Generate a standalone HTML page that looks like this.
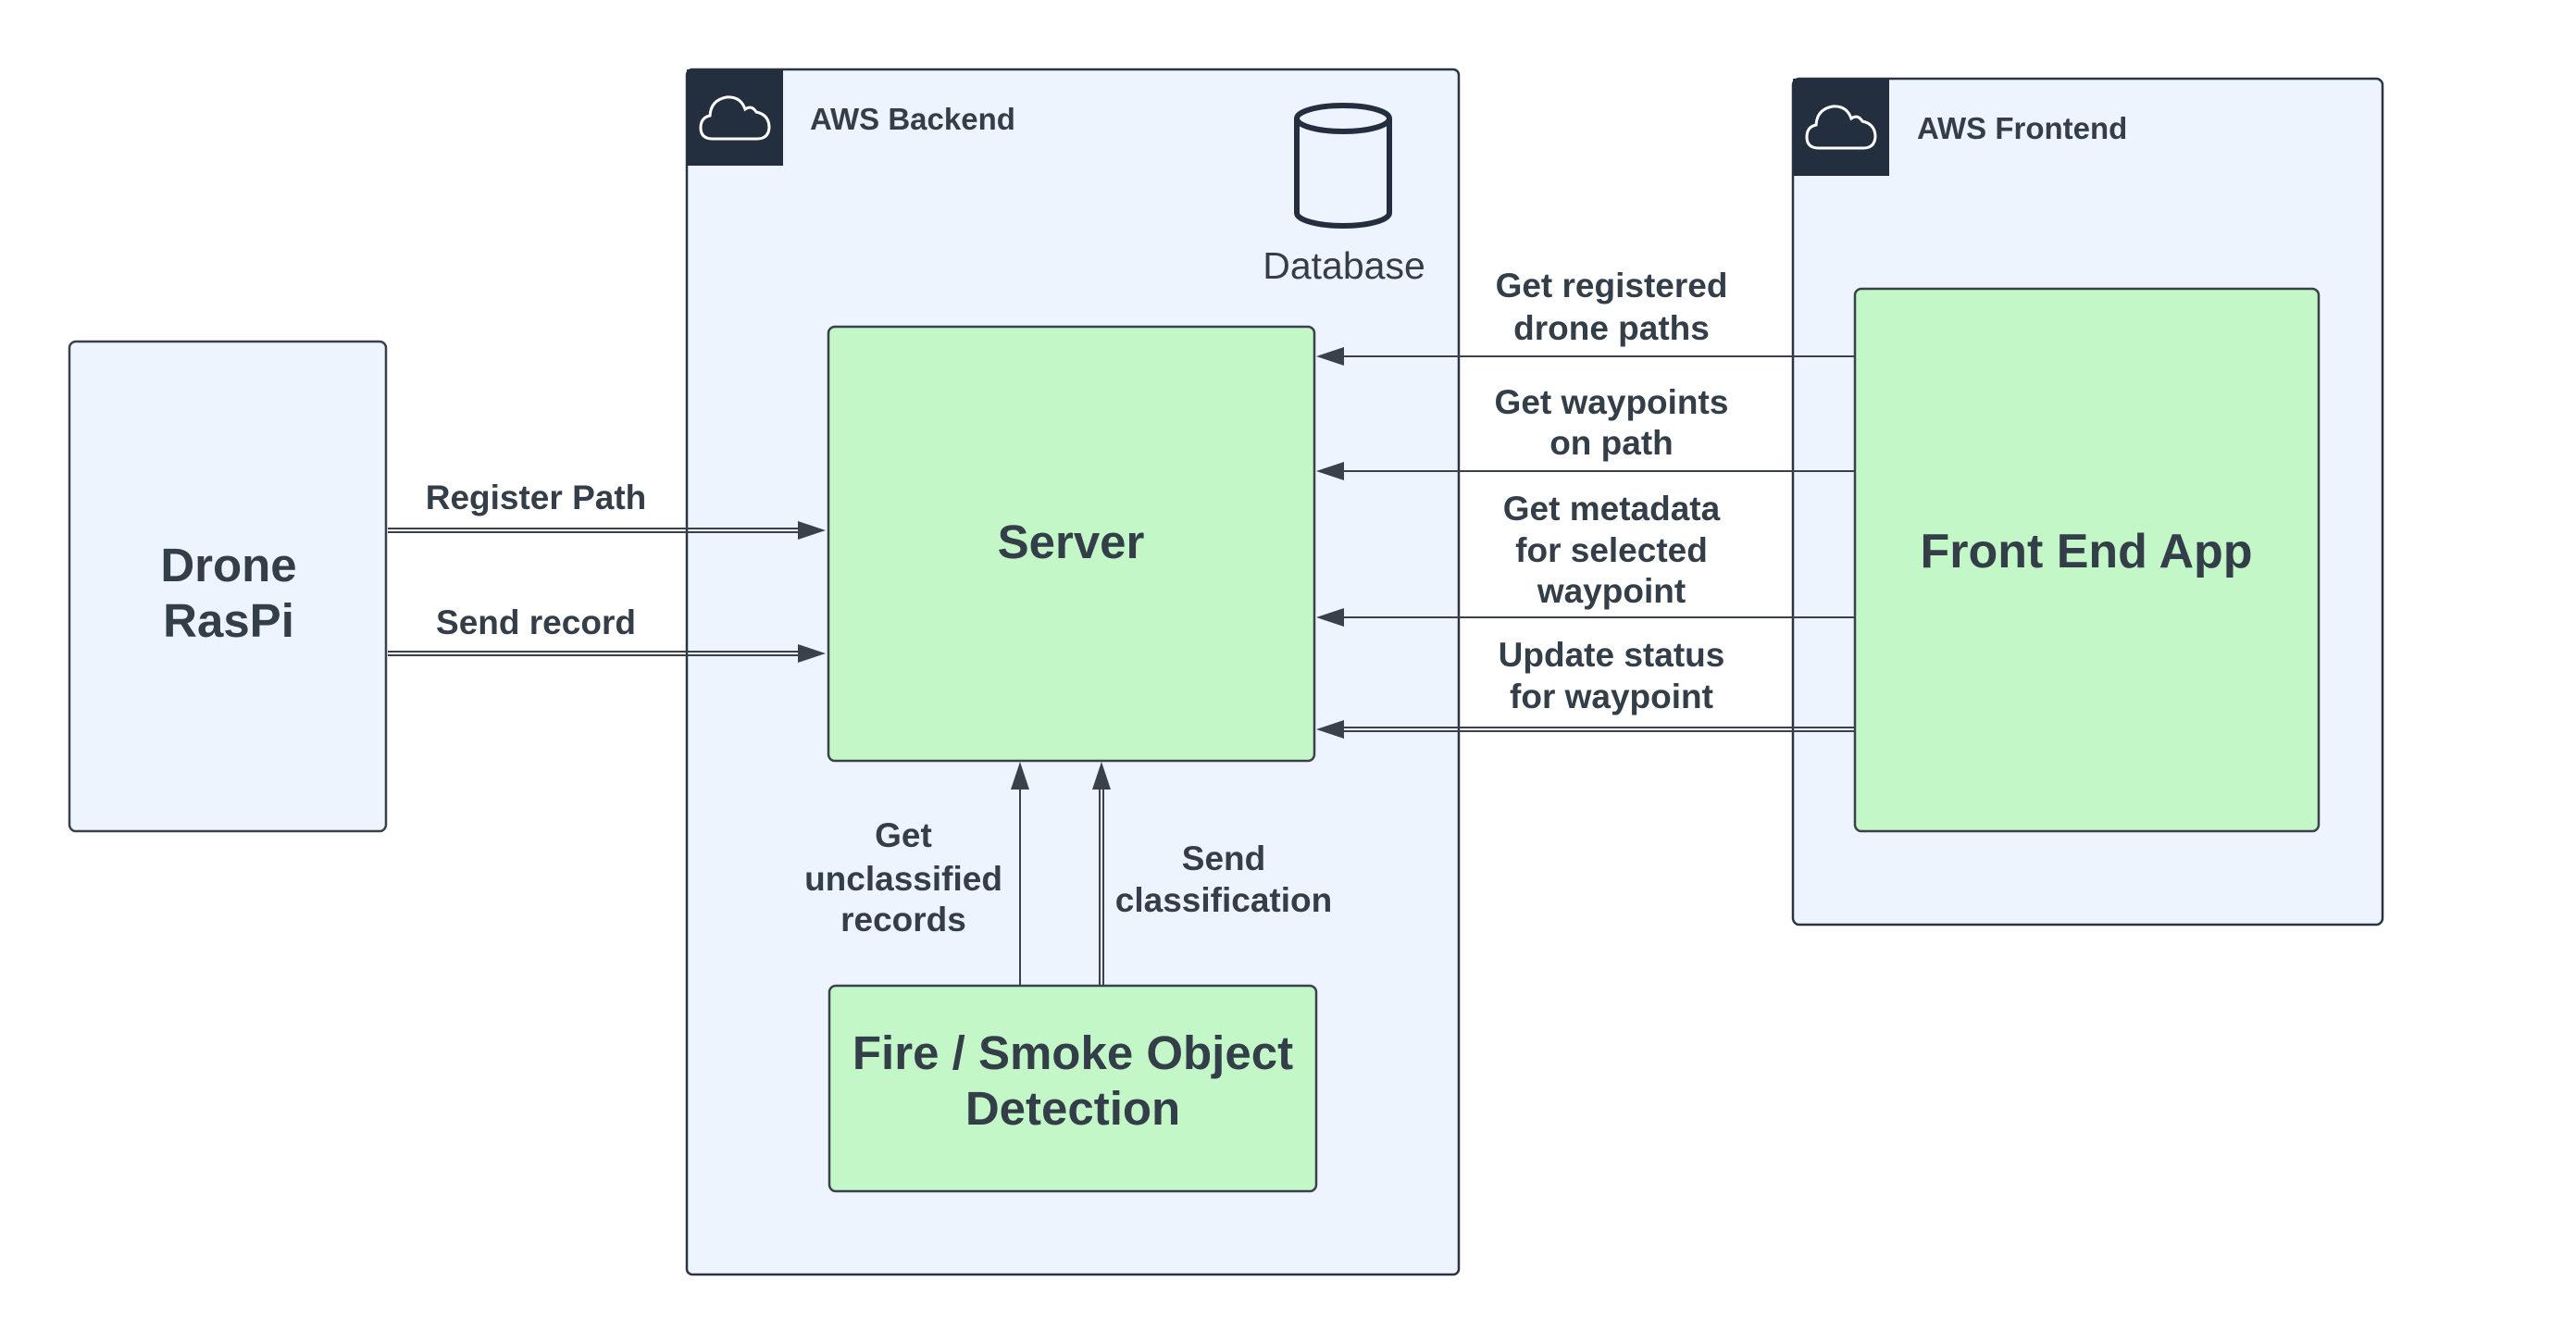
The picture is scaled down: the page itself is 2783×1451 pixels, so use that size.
<!DOCTYPE html>
<html><head><meta charset="utf-8"><style>
html,body{margin:0;padding:0;background:#fff;}
svg{display:block;}
text{font-family:"Liberation Sans",sans-serif;fill:#333e48;}
.b{font-weight:bold;}
</style></head><body>
<svg width="2783" height="1451" viewBox="0 0 2783 1451" xmlns="http://www.w3.org/2000/svg">
<!-- Backend -->
<rect x="742" y="75" width="834" height="1302" rx="6" fill="#edf4fe" stroke="#2b3440" stroke-width="2.5"/>
<rect x="742" y="75" width="104" height="104" fill="#232f3e"/>
<path d="M770,150 Q757,150 757,138 Q757,127 767,125 Q768,108 785,105 Q800,104 805,118 Q812,113 817,121 Q831,124 831,138 Q830,150 818,150 Z" fill="none" stroke="#fff" stroke-width="3"/>
<text x="875" y="140" class="b" font-size="33">AWS Backend</text>
<!-- Database -->
<path d="M1401,128 L1401,230 A50,14 0 0 0 1501,230 L1501,128" fill="none" stroke="#232f3e" stroke-width="6"/>
<ellipse cx="1451" cy="128" rx="50" ry="14" fill="none" stroke="#232f3e" stroke-width="6"/>
<text x="1452" y="301" font-size="41" text-anchor="middle">Database</text>
<!-- Server -->
<rect x="895" y="353" width="525" height="469" rx="7" fill="#c3f7c8" stroke="#3a414a" stroke-width="2.5"/>
<text x="1157" y="603" class="b" font-size="51" text-anchor="middle">Server</text>
<!-- Fire -->
<rect x="896" y="1065" width="526" height="222" rx="7" fill="#c3f7c8" stroke="#3a414a" stroke-width="2.5"/>
<text x="1159" y="1155" class="b" font-size="51" text-anchor="middle">Fire / Smoke Object</text>
<text x="1159" y="1215" class="b" font-size="51" text-anchor="middle">Detection</text>
<!-- Drone -->
<rect x="75" y="369" width="342" height="529" rx="7" fill="#edf4fe" stroke="#3a414a" stroke-width="2.5"/>
<text x="247" y="628" class="b" font-size="51" text-anchor="middle">Drone</text>
<text x="247" y="688" class="b" font-size="51" text-anchor="middle">RasPi</text>
<!-- Frontend -->
<rect x="1937" y="85" width="637" height="914" rx="7" fill="#edf4fe" stroke="#2b3440" stroke-width="2.5"/>
<rect x="1937" y="85" width="104" height="105" fill="#232f3e"/>
<path d="M1965,160 Q1952,160 1952,148 Q1952,137 1962,135 Q1963,118 1980,115 Q1995,114 2000,128 Q2007,123 2012,131 Q2026,134 2026,148 Q2025,160 2013,160 Z" fill="none" stroke="#fff" stroke-width="3"/>
<text x="2071" y="150" class="b" font-size="33">AWS Frontend</text>
<rect x="2004" y="312" width="501" height="586" rx="7" fill="#c3f7c8" stroke="#3a414a" stroke-width="2.5"/>
<text x="2254" y="613" class="b" font-size="52" text-anchor="middle">Front End App</text>
<!-- Drone arrows (double) -->
<g stroke="#3a414a" stroke-width="2" fill="none">
<line x1="419" y1="571" x2="862" y2="571"/><line x1="419" y1="575" x2="862" y2="575"/>
<line x1="419" y1="704" x2="862" y2="704"/><line x1="419" y1="708" x2="862" y2="708"/>
</g>
<path d="M892,573 L862,563 L862,583 Z" fill="#3a414a"/>
<path d="M892,706 L862,696 L862,716 Z" fill="#3a414a"/>
<text x="579" y="550" class="b" font-size="37" text-anchor="middle">Register Path</text>
<text x="579" y="685" class="b" font-size="37" text-anchor="middle">Send record</text>
<!-- Right arrows -->
<g stroke="#3a414a" stroke-width="2" fill="none">
<line x1="2004" y1="385" x2="1450" y2="385"/>
<line x1="2004" y1="509" x2="1450" y2="509"/>
<line x1="2004" y1="667" x2="1450" y2="667"/>
<line x1="2004" y1="786" x2="1450" y2="786"/><line x1="2004" y1="790" x2="1450" y2="790"/>
</g>
<path d="M1422,385 L1452,375 L1452,395 Z" fill="#3a414a"/>
<path d="M1422,509 L1452,499 L1452,519 Z" fill="#3a414a"/>
<path d="M1422,667 L1452,657 L1452,677 Z" fill="#3a414a"/>
<path d="M1422,788 L1452,778 L1452,798 Z" fill="#3a414a"/>
<g font-size="37" text-anchor="middle">
<text x="1741" y="321" class="b">Get registered</text>
<text x="1741" y="367" class="b">drone paths</text>
<text x="1741" y="447" class="b">Get waypoints</text>
<text x="1741" y="491" class="b">on path</text>
<text x="1741" y="562" class="b">Get metadata</text>
<text x="1741" y="607" class="b">for selected</text>
<text x="1741" y="651" class="b">waypoint</text>
<text x="1741" y="720" class="b">Update status</text>
<text x="1741" y="765" class="b">for waypoint</text>
</g>
<!-- Vertical arrows -->
<g stroke="#3a414a" stroke-width="2" fill="none">
<line x1="1102" y1="1065" x2="1102" y2="852"/>
<line x1="1188" y1="1065" x2="1188" y2="852"/><line x1="1192" y1="1065" x2="1192" y2="852"/>
</g>
<path d="M1102,823 L1092,853 L1112,853 Z" fill="#3a414a"/>
<path d="M1190,823 L1180,853 L1200,853 Z" fill="#3a414a"/>
<g font-size="37" text-anchor="middle">
<text x="976" y="915" class="b">Get</text>
<text x="976" y="962" class="b">unclassified</text>
<text x="976" y="1006" class="b">records</text>
<text x="1322" y="940" class="b">Send</text>
<text x="1322" y="985" class="b">classification</text>
</g>
</svg>
</body></html>
